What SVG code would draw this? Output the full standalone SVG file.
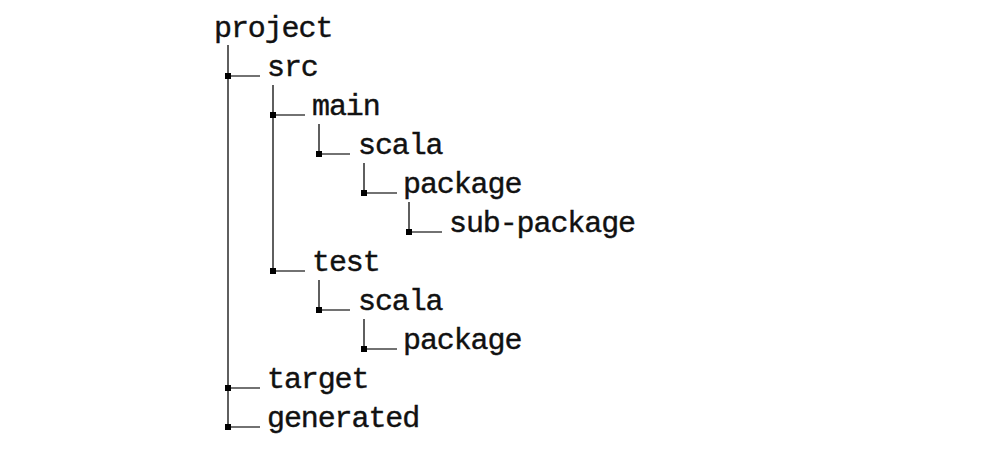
<svg xmlns="http://www.w3.org/2000/svg" width="994" height="455" viewBox="0 0 994 455">
<style>
text{font-family:"Liberation Mono","DejaVu Sans Mono",monospace;font-size:30px;letter-spacing:-1.1px;fill:#111;stroke:#111;stroke-width:0.4px}
.ln{stroke:#444;stroke-width:1.7;fill:none}
.dot{fill:#000}
</style>
<rect width="994" height="455" fill="#fff"/>
<g id="connectors">
<path class="ln" d="M228,45V427M228,76H260M228,388H260M228,427H260"/>
<path class="ln" d="M273,85V271M273,115H305M273,271H305"/>
<path class="ln" d="M319,124V154H350"/>
<path class="ln" d="M364,163V193H397"/>
<path class="ln" d="M409,202V232H442"/>
<path class="ln" d="M319,280V310H350"/>
<path class="ln" d="M364,319V349H397"/>
<rect class="dot" x="225" y="73" width="6" height="6"/>
<rect class="dot" x="270" y="112" width="6" height="6"/>
<rect class="dot" x="316" y="151" width="6" height="6"/>
<rect class="dot" x="361" y="190" width="6" height="6"/>
<rect class="dot" x="406" y="229" width="6" height="6"/>
<rect class="dot" x="270" y="268" width="6" height="6"/>
<rect class="dot" x="316" y="307" width="6" height="6"/>
<rect class="dot" x="361" y="346" width="6" height="6"/>
<rect class="dot" x="225" y="385" width="6" height="6"/>
<rect class="dot" x="225" y="424" width="6" height="6"/>
</g>
<g id="project"><text x="214" y="37">project</text></g>
<g id="src"><text x="267" y="76">src</text></g>
<g id="main"><text x="312" y="115">main</text></g>
<g id="main-scala"><text x="358" y="154">scala</text></g>
<g id="main-package"><text x="403" y="193">package</text></g>
<g id="sub-package"><text x="449" y="232">sub-package</text></g>
<g id="test"><text x="312" y="271">test</text></g>
<g id="test-scala"><text x="358" y="310">scala</text></g>
<g id="test-package"><text x="403" y="349">package</text></g>
<g id="target"><text x="267" y="388">target</text></g>
<g id="generated"><text x="267" y="427">generated</text></g>
</svg>
